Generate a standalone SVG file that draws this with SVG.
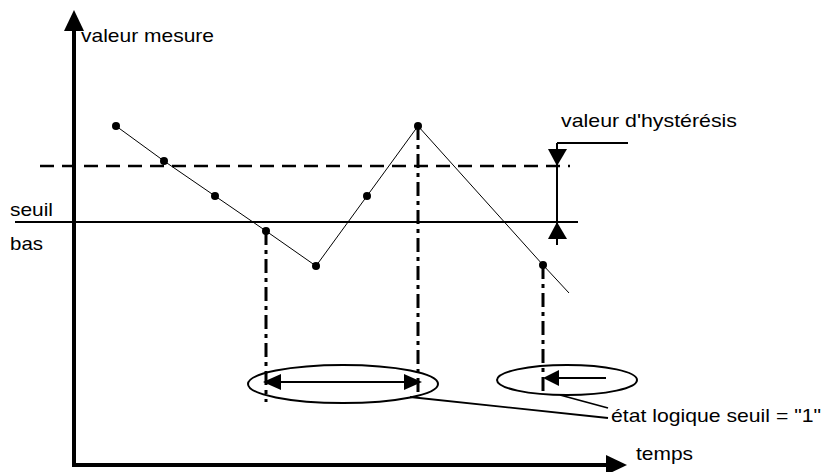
<svg xmlns="http://www.w3.org/2000/svg" width="824" height="472" viewBox="0 0 824 472">
<style>
text{font-family:"Liberation Sans",Arial,sans-serif;font-size:19px;fill:#000}
.ax{stroke:#000;stroke-width:4;fill:none}
.dd{stroke:#000;stroke-width:3;fill:none;stroke-dasharray:14 5 4 5}
.ell{stroke:#000;stroke-width:2;fill:none}
.pt{fill:#000}
</style>
<rect width="824" height="472" fill="#fff"/>
<g id="axes">
<line class="ax" x1="74" y1="467" x2="74" y2="28"/>
<polygon points="74,10 64,31 84,31"/>
<line class="ax" x1="72" y1="465" x2="608" y2="465"/>
<polygon points="627,465 606,455 606,475"/>
</g>
<g id="thresholds">
<line x1="40" y1="166" x2="570" y2="166" stroke="#000" stroke-width="2.5" stroke-dasharray="14 8"/>
<line x1="15" y1="222" x2="578" y2="222" stroke="#000" stroke-width="1.8"/>
</g>
<g id="connectors">
<polyline points="116,126 164,161 215,196 266,231 316,266 367,196 418,126 543,265 569,293" fill="none" stroke="#000" stroke-width="1"/>
<line class="dd" x1="266" y1="231" x2="266" y2="402"/>
<line class="dd" x1="418" y1="126" x2="418" y2="393"/>
<line class="dd" x1="543" y1="265" x2="543" y2="396"/>
<line x1="410" y1="397" x2="608" y2="418" stroke="#000" stroke-width="1.8"/>
<line x1="560" y1="395" x2="608" y2="408" stroke="#000" stroke-width="1.8"/>
<line x1="557" y1="143" x2="628" y2="143" stroke="#000" stroke-width="2"/>
<line x1="557" y1="143" x2="557" y2="245" stroke="#000" stroke-width="2"/>
<polygon points="557,166 548,149 567,149"/>
<polygon points="557,222 548,239 567,239"/>
</g>
<g id="points">
<circle class="pt" cx="116" cy="126" r="4"/>
<circle class="pt" cx="164" cy="161" r="4"/>
<circle class="pt" cx="215" cy="196" r="4"/>
<circle class="pt" cx="266" cy="231" r="4"/>
<circle class="pt" cx="316" cy="266" r="4"/>
<circle class="pt" cx="367" cy="196" r="4"/>
<circle class="pt" cx="418" cy="126" r="4"/>
<circle class="pt" cx="543" cy="265" r="4"/>
</g>
<g id="state1">
<ellipse class="ell" cx="343" cy="384" rx="95" ry="19"/>
<line x1="278" y1="382" x2="406" y2="382" stroke="#000" stroke-width="2"/>
<polygon points="263,382 281,374 281,390"/>
<polygon points="422,382 404,374 404,390"/>
</g>
<g id="state2">
<ellipse class="ell" cx="567" cy="380" rx="70" ry="15"/>
<line x1="556" y1="378" x2="606" y2="378" stroke="#000" stroke-width="2"/>
<polygon points="543,378 559,370 559,386"/>
</g>
<g id="labels">
<text x="81" y="42" textLength="133" lengthAdjust="spacingAndGlyphs">valeur mesure</text>
<text x="561" y="127" textLength="176" lengthAdjust="spacingAndGlyphs">valeur d'hystérésis</text>
<text x="10" y="216" textLength="43" lengthAdjust="spacingAndGlyphs">seuil</text>
<text x="10" y="250" textLength="33" lengthAdjust="spacingAndGlyphs">bas</text>
<text x="611" y="422" textLength="210" lengthAdjust="spacingAndGlyphs">état logique seuil = "1"</text>
<text x="636" y="460" textLength="57" lengthAdjust="spacingAndGlyphs">temps</text>
</g>
</svg>
